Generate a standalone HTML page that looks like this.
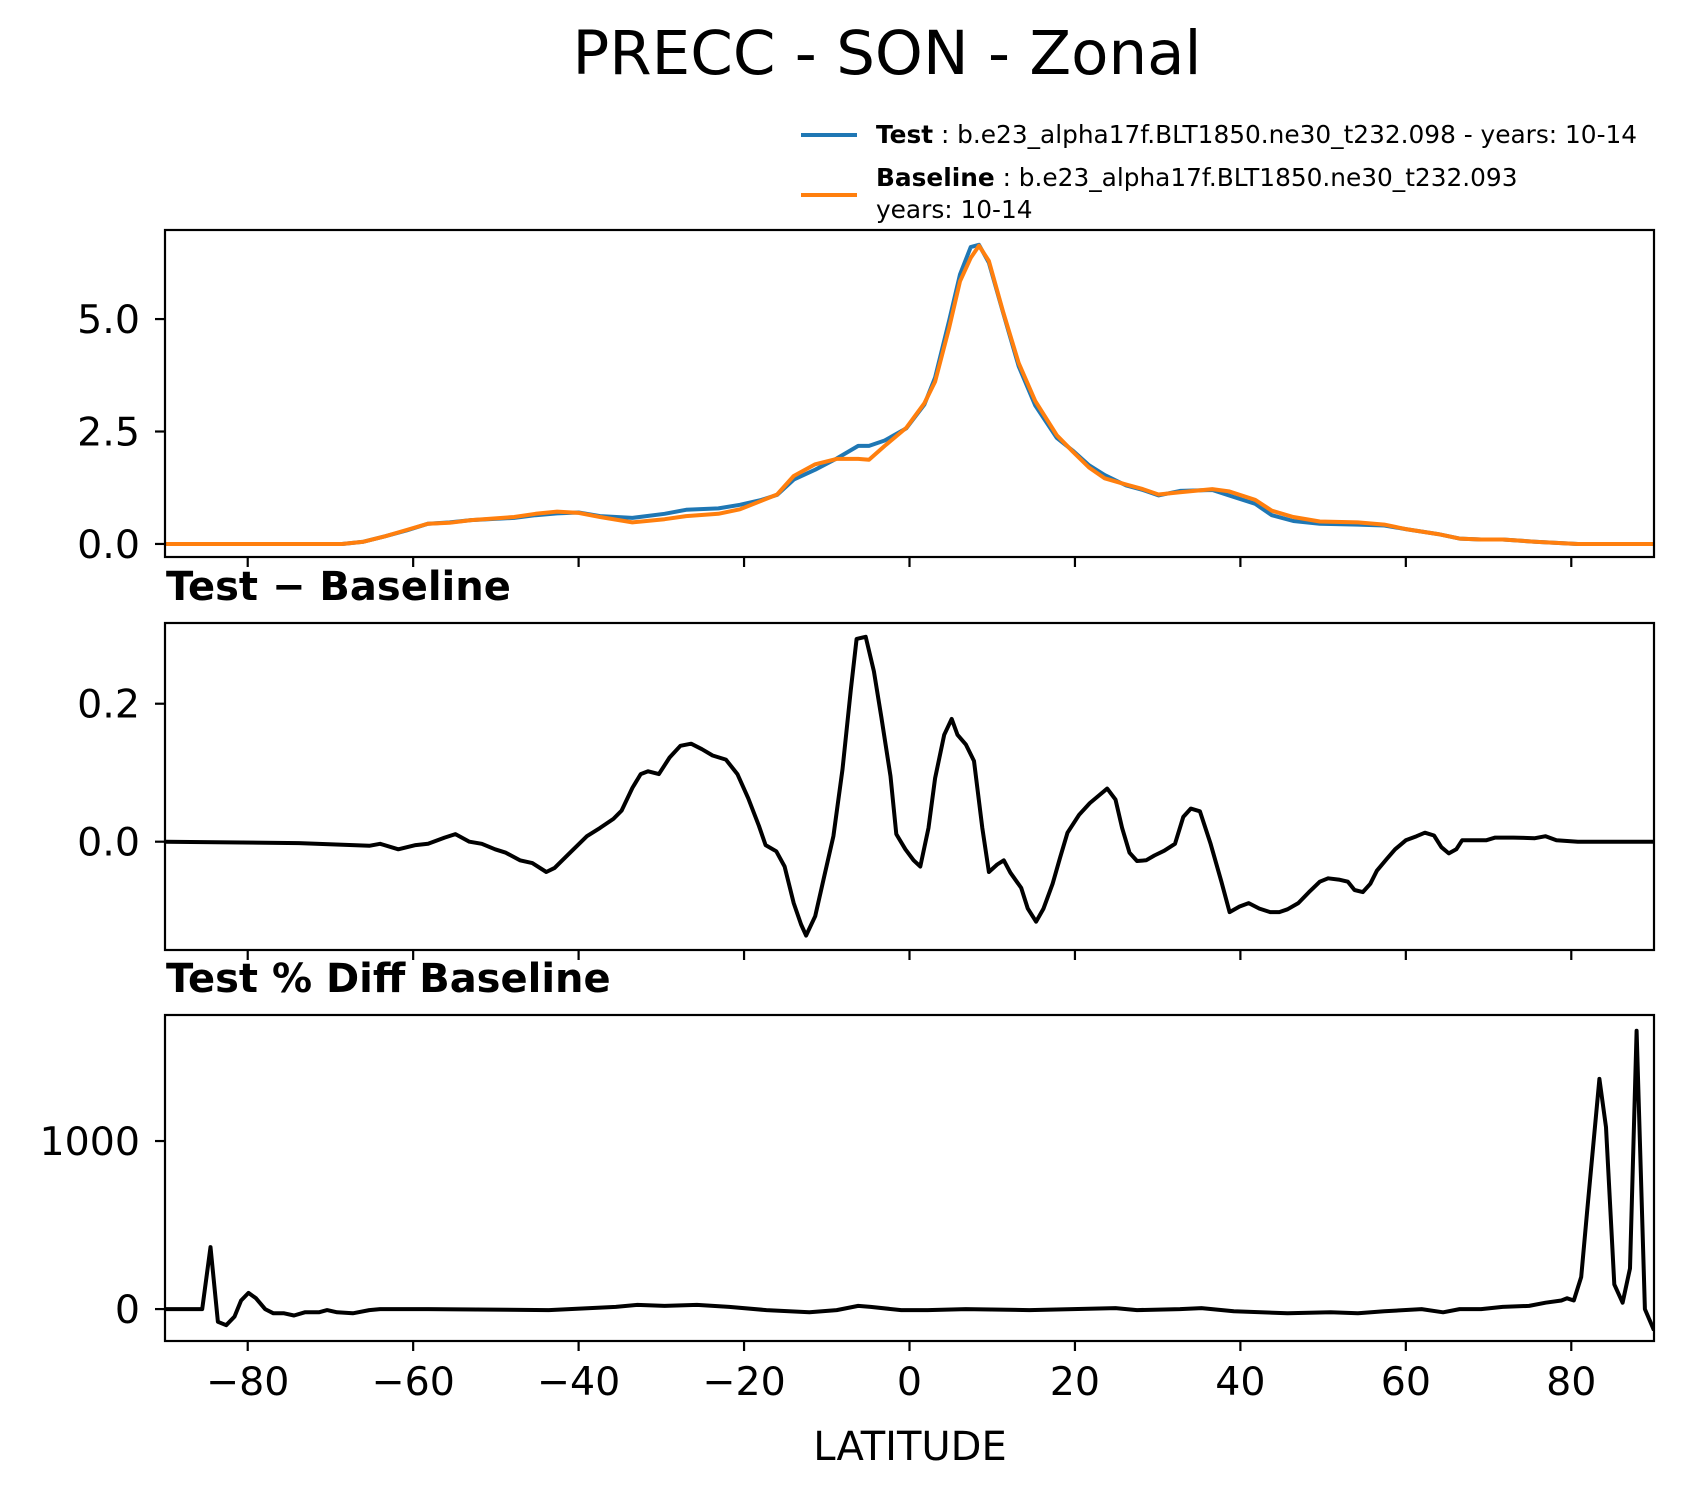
<!DOCTYPE html>
<html><head><meta charset="utf-8"><style>
html,body{margin:0;padding:0;background:#fff;}
svg{display:block;font-family:"DejaVu Sans","Liberation Sans",sans-serif;}
</style></head><body>
<svg id="fig" width="1683" height="1496" viewBox="0 0 1683 1496" xmlns="http://www.w3.org/2000/svg">
<text x="887" y="74" font-size="61" text-anchor="middle">PRECC - SON - Zonal</text>
<g>
<line x1="801" y1="135" x2="857" y2="135" stroke="#1f77b4" stroke-width="4"/>
<text x="876" y="143" font-size="24.8"><tspan font-weight="bold">Test</tspan> : b.e23_alpha17f.BLT1850.ne30_t232.098 - years: 10-14</text>
<line x1="801" y1="195" x2="857" y2="195" stroke="#ff7f0e" stroke-width="4"/>
<text x="876" y="186" font-size="24.8"><tspan font-weight="bold">Baseline</tspan> : b.e23_alpha17f.BLT1850.ne30_t232.093</text>
<text x="876" y="218" font-size="24.8">years: 10-14</text>
</g>
<text x="166" y="600" font-size="40" font-weight="bold">Test − Baseline</text>
<text x="166" y="992" font-size="40" font-weight="bold">Test % Diff Baseline</text>
<text x="910" y="1460" font-size="40" text-anchor="middle">LATITUDE</text>
<g id="plots"></g>
</svg>
<script>
const latBase = [-90,-68.6,-66,-63.4,-60.8,-58.2,-55.6,-53,-47.8,-45.2,-42.6,-40,-37.4,-33.5,-29.6,-27,-23.1,-20.5,-17.9,-16,-14,-11.4,-8.8,-6.2,-4.9,-3,-0.4,1.8,3.1,4.8,6.1,7.4,8.4,9.6,11.3,13.2,15.2,17.8,19.7,21.7,23.6,26.2,28.2,30.1,32.7,36.6,38.6,41.8,43.8,46.4,49.6,54.2,57.4,60,63.9,66.5,69.1,71.7,75.6,80.8,90];
const baselineVals = [0,0,0.05,0.17,0.31,0.45,0.47,0.53,0.6,0.67,0.72,0.69,0.6,0.48,0.55,0.62,0.67,0.77,0.96,1.1,1.51,1.77,1.89,1.89,1.87,2.18,2.58,3.13,3.61,4.81,5.84,6.36,6.63,6.29,5.17,4.02,3.18,2.42,2.06,1.7,1.46,1.32,1.22,1.1,1.15,1.22,1.17,0.98,0.74,0.6,0.5,0.48,0.43,0.33,0.22,0.12,0.1,0.1,0.05,0,0];
const testVals = [0,0,0.05,0.17,0.30,0.45,0.48,0.53,0.58,0.64,0.68,0.70,0.62,0.58,0.67,0.76,0.79,0.87,0.98,1.09,1.43,1.65,1.90,2.18,2.18,2.30,2.57,3.10,3.70,4.97,5.99,6.60,6.65,6.25,5.15,3.95,3.08,2.36,2.08,1.75,1.53,1.30,1.20,1.08,1.18,1.20,1.08,0.89,0.64,0.51,0.45,0.43,0.41,0.33,0.22,0.12,0.10,0.10,0.05,0,0];
const latDiff = [-90,-73.8,-67.3,-65.3,-64,-61.8,-59.7,-58.2,-56.2,-54.9,-53.2,-51.7,-50.1,-48.8,-47.1,-45.6,-43.9,-42.9,-41.3,-39,-37.4,-35.8,-34.8,-33.5,-32.5,-31.6,-30.3,-29,-27.7,-26.4,-25.1,-23.8,-22.2,-20.8,-19.5,-18.2,-17.4,-16.1,-15.1,-14,-13.1,-12.5,-11.4,-10.4,-9.2,-8.1,-7.1,-6.4,-5.3,-4.3,-3.4,-2.3,-1.6,-0.5,0.5,1.3,2.3,3.1,4.2,5.1,5.8,6.8,7.8,8.8,9.6,10.6,11.4,12.2,13.5,14.3,15.3,16.2,17.3,18.2,19.1,20.5,21.8,22.9,23.9,24.9,25.7,26.6,27.5,28.6,29.6,30.8,32.1,33.1,34,35.1,36.4,37.7,38.7,39.9,41,42.3,43.6,44.7,45.7,47,48.3,49.6,50.6,51.9,53,53.8,54.8,55.7,56.5,57.7,58.7,60,61.3,62.3,63.4,64.3,65.2,66.1,66.8,68.8,69.7,70.8,73,75.6,76.9,78.2,80.8,90];
const diffVals = [0,-0.002,-0.005,-0.006,-0.003,-0.011,-0.005,-0.003,0.006,0.011,0,-0.003,-0.011,-0.016,-0.027,-0.031,-0.044,-0.038,-0.019,0.008,0.02,0.033,0.045,0.078,0.098,0.102,0.098,0.122,0.139,0.142,0.134,0.125,0.119,0.098,0.063,0.023,-0.005,-0.014,-0.036,-0.089,-0.12,-0.136,-0.108,-0.055,0.008,0.105,0.22,0.294,0.297,0.247,0.18,0.095,0.011,-0.011,-0.027,-0.036,0.02,0.092,0.155,0.178,0.155,0.141,0.117,0.02,-0.044,-0.033,-0.027,-0.045,-0.067,-0.097,-0.116,-0.097,-0.061,-0.023,0.013,0.039,0.056,0.067,0.077,0.061,0.02,-0.016,-0.028,-0.027,-0.02,-0.013,-0.003,0.036,0.048,0.044,-0.003,-0.058,-0.102,-0.094,-0.089,-0.097,-0.102,-0.102,-0.098,-0.089,-0.073,-0.058,-0.053,-0.055,-0.058,-0.07,-0.073,-0.061,-0.042,-0.025,-0.011,0.002,0.008,0.013,0.009,-0.008,-0.017,-0.011,0.002,0.002,0.002,0.006,0.006,0.005,0.008,0.002,0,0];
const latPct = [-90,-85.5,-84.5,-83.6,-82.6,-81.6,-80.8,-79.9,-79,-77.9,-76.9,-75.6,-74.4,-73.1,-71.4,-70.4,-69.2,-67.3,-65.3,-64,-58.2,-43.6,-35.5,-32.9,-29.6,-25.7,-21.8,-17.3,-12.1,-8.8,-6.2,-4.7,-1,2.2,6.8,14.5,19.7,24.9,27.5,32.7,35.3,39.2,45.7,50.9,54.2,57.4,61.9,64.5,66.5,69.1,71.7,74.9,76.9,78.8,79.5,80.3,81.2,81.9,83.4,84.2,85.2,86.2,87.1,87.9,88.9,90];
const pctVals = [0,0,369,-76,-96,-45,51,96,64,0,-25,-25,-38,-19,-19,-6,-19,-25,-6,0,0,-6,13,25,19,25,13,-6,-19,-6,19,13,-6,-6,0,-6,0,6,-6,0,6,-13,-25,-19,-25,-13,0,-19,0,0,13,19,38,51,64,51,191,573,1370,1083,147,38,242,1656,0,-127];
const xTicks = [-80,-60,-40,-20,0,20,40,60,80];
const xTickLabels = ["−80","−60","−40","−20","0","20","40","60","80"];
const p1Ticks = [0,2.5,5], p1Labels = ["0.0","2.5","5.0"];
const p2Ticks = [0,0.2], p2Labels = ["0.0","0.2"];
const p3Ticks = [0,1000], p3Labels = ["0","1000"];

const NS = "http://www.w3.org/2000/svg";
const L = 165, R = 1654;
const xs = lat => L + (lat + 90) / 180 * (R - L);
const panels = [
  {top:230,bot:557,y0:-0.29,y1:6.98,ticks:p1Ticks,labels:p1Labels,name:"precc-panel",xl:false},
  {top:623,bot:950,y0:-0.157,y1:0.317,ticks:p2Ticks,labels:p2Labels,name:"diff-panel",xl:false},
  {top:1015,bot:1341,y0:-190,y1:1750,ticks:p3Ticks,labels:p3Labels,name:"pctdiff-panel",xl:true}
];
const root = document.getElementById("plots");
function mk(tag, attrs, parent){const e=document.createElementNS(NS,tag);for(const k in attrs)e.setAttribute(k,attrs[k]);(parent||root).appendChild(e);return e;}
function ysFor(p){return v => p.bot - (v - p.y0)/(p.y1 - p.y0)*(p.bot - p.top);}
function line(lats, vals, p, color, name){
  const ys = ysFor(p);
  const d = lats.map((la,i)=>(i?"L":"M")+xs(la).toFixed(1)+" "+ys(vals[i]).toFixed(1)).join(" ");
  const e = mk("path",{d:d,fill:"none",stroke:color,"stroke-width":4,"stroke-linejoin":"round"},p.g);
  
  
}
panels.forEach((p,pi)=>{
  p.g = mk("g",{});
  
  
  const cid = "clip"+pi;
  const cp = mk("clipPath",{id:cid},p.g); mk("rect",{x:L,y:p.top,width:R-L,height:p.bot-p.top},cp);
  const inner = mk("g",{"clip-path":"url(#"+cid+")"},p.g);
  p.inner = inner;
  const ys = ysFor(p);
  p.ticks.forEach((t,i)=>{
    const tk = mk("line",{x1:L-10,x2:L,y1:ys(t),y2:ys(t),stroke:"#000","stroke-width":2.2},p.g);
    
    
    const tl = mk("text",{x:L-25,y:ys(t)+14,"font-size":39.5,"text-anchor":"end"},p.g);
    tl.textContent = p.labels[i];
    
    
  });
  xTicks.forEach((t,i)=>{
    const tk = mk("line",{x1:xs(t),x2:xs(t),y1:p.bot,y2:p.bot+10,stroke:"#000","stroke-width":2.2},p.g);
    
    
    if(p.xl){
      const tl = mk("text",{x:xs(t),y:p.bot+54,"font-size":39.5,"text-anchor":"middle"},p.g);
      tl.textContent = xTickLabels[i];
      
      
    }
  });
});
function draw(lats, vals, pi, color, name){
  const p = panels[pi]; const g = p.g; p.g = p.inner; line(lats, vals, p, color, name); p.g = g;
}
draw(latBase, testVals, 0, "#1f77b4", "test-line");
draw(latBase, baselineVals, 0, "#ff7f0e", "baseline-line");
draw(latDiff, diffVals, 1, "#000", "difference-line");
draw(latPct, pctVals, 2, "#000", "percent-diff-line");
panels.forEach(p=>{
  const fr = mk("rect",{x:L,y:p.top,width:R-L,height:p.bot-p.top,fill:"none",stroke:"#000","stroke-width":2.2},p.g);
  
  
});
</script>
</body></html>
